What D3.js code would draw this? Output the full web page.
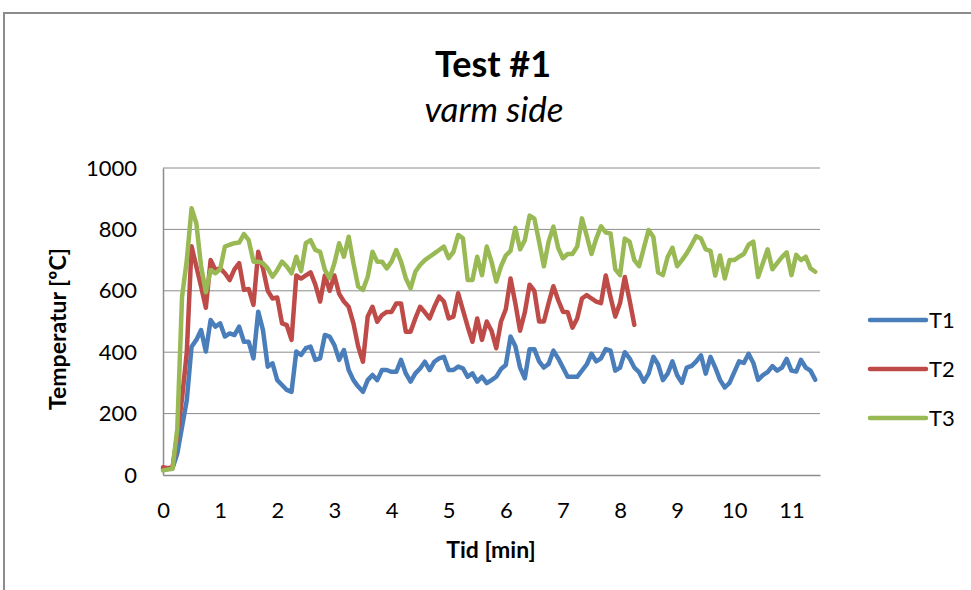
<!DOCTYPE html>
<html>
<head>
<meta charset="utf-8">
<script src="https://cdnjs.cloudflare.com/ajax/libs/d3/7.8.5/d3.min.js"></script>
<style>
  html, body { margin: 0; padding: 0; background: #fff; }
  svg { display: block; }
  text { font-family: Lato, "Open Sans", sans-serif; fill: #000; }
</style>
</head>
<body>
<svg id="chart" width="971" height="590"></svg>
<script>
// Logged temperatures, one reading every 5 seconds
const sampleIntervalMin = 5 / 60;

const seriesNames = ["T1", "T2", "T3"];
const seriesColors = ["#4a7ebb", "#be4b48", "#98b954"];

const t1 = [20,20,22,70,157,244,418,440,472,402,505,483,494,451,461,456,483,434,434,380,
  532,472,353,364,309,293,277,271,402,391,413,418,375,380,456,451,423,375,407,342,
  309,288,271,309,326,309,342,342,336,336,375,331,304,331,347,369,342,369,380,385,
  342,342,353,347,320,331,304,320,299,309,320,345,358,451,420,350,315,410,410,370,
  350,362,405,380,350,320,320,320,340,360,395,370,380,410,405,340,350,400,380,350,
  335,304,330,385,360,309,330,370,325,300,350,355,370,390,330,385,350,310,285,300,
  335,370,365,395,365,310,325,335,355,340,350,378,340,337,375,350,340,310];

const t2 = [25,22,25,130,250,400,745,679,614,545,700,668,673,657,635,670,690,603,606,554,
  727,673,600,575,578,494,488,440,650,640,650,660,620,565,650,600,650,590,565,548,
  494,418,369,516,548,499,521,531,531,559,559,467,467,510,548,530,510,548,581,565,
  510,516,592,537,483,434,510,440,500,470,413,500,540,640,560,470,530,620,600,500,
  500,560,615,570,532,530,480,510,575,586,575,565,560,650,580,516,560,645,570,489];

const t3 = [15,18,20,150,580,700,869,820,680,595,668,657,670,744,750,755,757,785,765,695,
  695,690,673,646,668,695,679,657,711,664,755,765,733,727,668,641,690,755,711,776,
  690,614,603,646,727,695,695,673,695,733,695,641,608,662,684,700,711,722,733,744,
  706,727,782,771,635,635,711,651,744,695,630,680,715,730,805,735,765,845,835,760,
  680,760,809,740,706,720,720,744,836,780,720,770,810,790,787,670,651,770,760,700,
  680,740,798,775,660,651,710,740,680,700,722,749,778,770,735,730,650,715,640,700,
  700,711,720,750,760,645,690,735,670,690,710,725,651,717,700,711,673,662];

const seriesValues = [t1, t2, t3];

const xTicks = [0,1,2,3,4,5,6,7,8,9,10,11];
const yTicks = [0,200,400,600,800,1000];
const xMax = 11.5;

const titleText = "Test #1";
const subtitleText = "varm side";
const xTitle = "Tid [min]";
const yTitle = "Temperatur [ºC]";

const svg = d3.select("#chart");

// outer chart frame
svg.append("rect")
  .attr("x", 4).attr("y", 13)
  .attr("width", 1000).attr("height", 600)
  .attr("fill", "#fff")
  .attr("stroke", "#8c8c8c").attr("stroke-width", 2);

const plot = { left: 163, right: 820, top: 168, bottom: 475 };

const x = d3.scaleLinear().domain([0, xMax]).range([plot.left, plot.right]);
const y = d3.scaleLinear().domain([0, 1000]).range([plot.bottom, plot.top]);

// horizontal gridlines
svg.append("g")
  .selectAll("line")
  .data(yTicks.filter(v => v > 0))
  .join("line")
  .attr("x1", plot.left).attr("x2", plot.right)
  .attr("y1", d => y(d)).attr("y2", d => y(d))
  .attr("stroke", "#8c8c8c").attr("stroke-width", 1);

// y axis
const yAxis = svg.append("g")
  .attr("transform", `translate(${plot.left},0)`)
  .call(d3.axisLeft(y).tickValues(yTicks).tickSize(0).tickPadding(26).tickFormat(d3.format("d")));
yAxis.select(".domain").attr("stroke", "#8c8c8c").attr("stroke-width", 1.5);
yAxis.selectAll("text")
  .style("font-family", 'Lato, "Open Sans", sans-serif')
  .style("font-size", "22px").attr("fill", "#262626");

// x axis
const xAxis = svg.append("g")
  .attr("transform", `translate(0,${plot.bottom})`)
  .call(d3.axisBottom(x).tickValues(xTicks).tickSize(0).tickPadding(27).tickFormat(d3.format("d")));
xAxis.select(".domain").attr("stroke", "#8c8c8c").attr("stroke-width", 1.5);
xAxis.selectAll("text")
  .style("font-family", 'Lato, "Open Sans", sans-serif')
  .style("font-size", "22px").attr("fill", "#262626");

// series lines
const line = d3.line()
  .x((d, i) => x(i * sampleIntervalMin))
  .y(d => y(d));

svg.append("g")
  .selectAll("path")
  .data(seriesValues)
  .join("path")
  .attr("d", d => line(d))
  .attr("fill", "none")
  .attr("stroke", (d, i) => seriesColors[i])
  .attr("stroke-width", 4.5)
  .attr("stroke-linejoin", "round")
  .attr("stroke-linecap", "round");

// titles
svg.append("text")
  .attr("x", 493).attr("y", 77)
  .attr("text-anchor", "middle")
  .style("font-size", "36px").style("font-weight", "bold")
  .text(titleText);

svg.append("text")
  .attr("x", 494).attr("y", 122)
  .attr("text-anchor", "middle")
  .style("font-size", "35px").style("font-style", "italic")
  .text(subtitleText);

svg.append("text")
  .attr("x", 491).attr("y", 558)
  .attr("text-anchor", "middle")
  .style("font-size", "23px").style("font-weight", "bold")
  .text(xTitle);

svg.append("text")
  .attr("transform", "translate(66,329) rotate(-90)")
  .attr("text-anchor", "middle")
  .style("font-size", "23px").style("font-weight", "bold")
  .text(yTitle);

// legend
const legend = svg.append("g")
  .selectAll("g")
  .data(seriesNames)
  .join("g")
  .attr("transform", (d, i) => `translate(870,${320 + i * 49})`);

legend.append("line")
  .attr("x1", 0).attr("x2", 56)
  .attr("stroke", (d, i) => seriesColors[i])
  .attr("stroke-width", 4.5)
  .attr("stroke-linecap", "round");

legend.append("text")
  .attr("x", 59).attr("y", 8)
  .style("font-size", "22px").attr("fill", "#262626")
  .text(d => d);
</script>
</body>
</html>
